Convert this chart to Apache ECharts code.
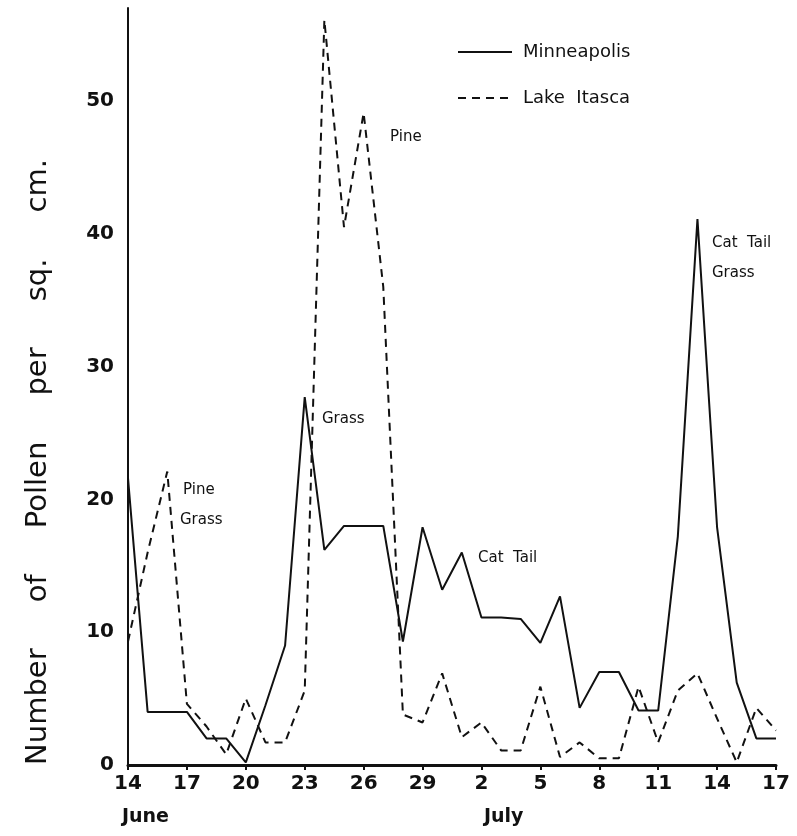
<!DOCTYPE html>
<html>
<head>
<meta charset="utf-8">
<script src="https://cdn.jsdelivr.net/npm/echarts@6/dist/echarts.min.js"></script>
<style>
  body { margin: 0; background: #fff; }
  #chart { width: 797px; height: 836px; }
</style>
</head>
<body>
<div id="chart"></div>
<script>
// June 14 .. July 17, one point per day
var days = ['14','15','16','17','18','19','20','21','22','23','24','25','26','27','28','29','30',
            '1','2','3','4','5','6','7','8','9','10','11','12','13','14','15','16','17'];
var minneapolis = [21.6, 4, 4, 4, 2, 2, 0.2, 4.5, 9, 27.7, 16.2, 18, 18, 18, 9.3, 17.9, 13.2,
                   16, 11.1, 11.1, 11, 9.2, 12.7, 4.3, 7, 7, 4.1, 4.1, 17.2, 41.1, 17.9, 6.2, 2, 2];
var lakeItasca = [9.3, 16, 22.1, 4.6, 2.9, 0.8, 5, 1.7, 1.7, 5.6, 56.1, 40.5, 49.1, 36, 3.8, 3.2, 6.9,
                  2.1, 3.2, 1.1, 1.1, 5.9, 0.6, 1.7, 0.5, 0.5, 5.9, 1.7, 5.6, 6.9, 3.5, 0.2, 4.3, 2.6];
var yTicks = [0, 10, 20, 30, 40, 50];

var font = 'DejaVu Sans';
var chartDom = document.getElementById('chart');
var myChart = echarts.init(chartDom);
var option;

function note(text, x, y) {
  return { type: 'text', left: x, top: y, style: { text: text, font: '15px "' + font + '"', fill: '#111' } };
}

option = {
  backgroundColor: '#fff',
  animation: false,
  grid: { left: 128, right: 21, top: 8, bottom: 71 },
  legend: {
    left: 452, top: 38, orient: 'vertical', itemGap: 28, itemWidth: 54, itemHeight: 14,
    itemStyle: { opacity: 0 },
    textStyle: { fontFamily: font, fontSize: 18, color: '#111', padding: [0, 0, 0, 6] },
    data: ['Minneapolis', 'Lake  Itasca']
  },
  xAxis: {
    type: 'category',
    data: days,
    boundaryGap: false,
    axisLine: { lineStyle: { color: '#111', width: 3 } },
    axisTick: { interval: 2, length: 5, lineStyle: { color: '#111', width: 2 } },
    axisLabel: { interval: 2, color: '#111', fontFamily: font, fontSize: 20, fontWeight: 'bold', margin: 9 },
    splitLine: { show: false }
  },
  yAxis: {
    type: 'value',
    min: 0, max: 57, interval: 10,
    axisLine: { show: true, lineStyle: { color: '#111', width: 2 } },
    axisTick: { show: false },
    axisLabel: {
      color: '#111', fontFamily: font, fontSize: 20, fontWeight: 'bold', margin: 14,
      formatter: function (v) { return yTicks.indexOf(v) >= 0 ? String(v) : ''; }
    },
    splitLine: { show: false }
  },
  series: [
    {
      name: 'Minneapolis', type: 'line', data: minneapolis, symbol: 'none',
      lineStyle: { color: '#111', width: 2 }, itemStyle: { color: '#111' }
    },
    {
      name: 'Lake  Itasca', type: 'line', data: lakeItasca, symbol: 'none',
      lineStyle: { color: '#111', width: 2, type: [8, 6] }, itemStyle: { color: '#111' }
    }
  ],
  graphic: [
    {
      type: 'text', x: 38, y: 462, rotation: Math.PI / 2,
      style: {
        text: 'Number     of     Pollen     per     sq.     cm.',
        font: '29px "' + font + '"', fill: '#111', align: 'center', verticalAlign: 'middle'
      }
    },
    note('Pine', 183, 483),
    note('Grass', 180, 513),
    note('Pine', 390, 130),
    note('Grass', 322, 412),
    note('Cat  Tail', 478, 551),
    note('Cat  Tail', 712, 236),
    note('Grass', 712, 266),
    { type: 'text', left: 122, top: 808, style: { text: 'June', font: 'bold 19px "' + font + '"', fill: '#111' } },
    { type: 'text', left: 484, top: 808, style: { text: 'July', font: 'bold 19px "' + font + '"', fill: '#111' } }
  ]
};

option && myChart.setOption(option);
</script>
</body>
</html>
